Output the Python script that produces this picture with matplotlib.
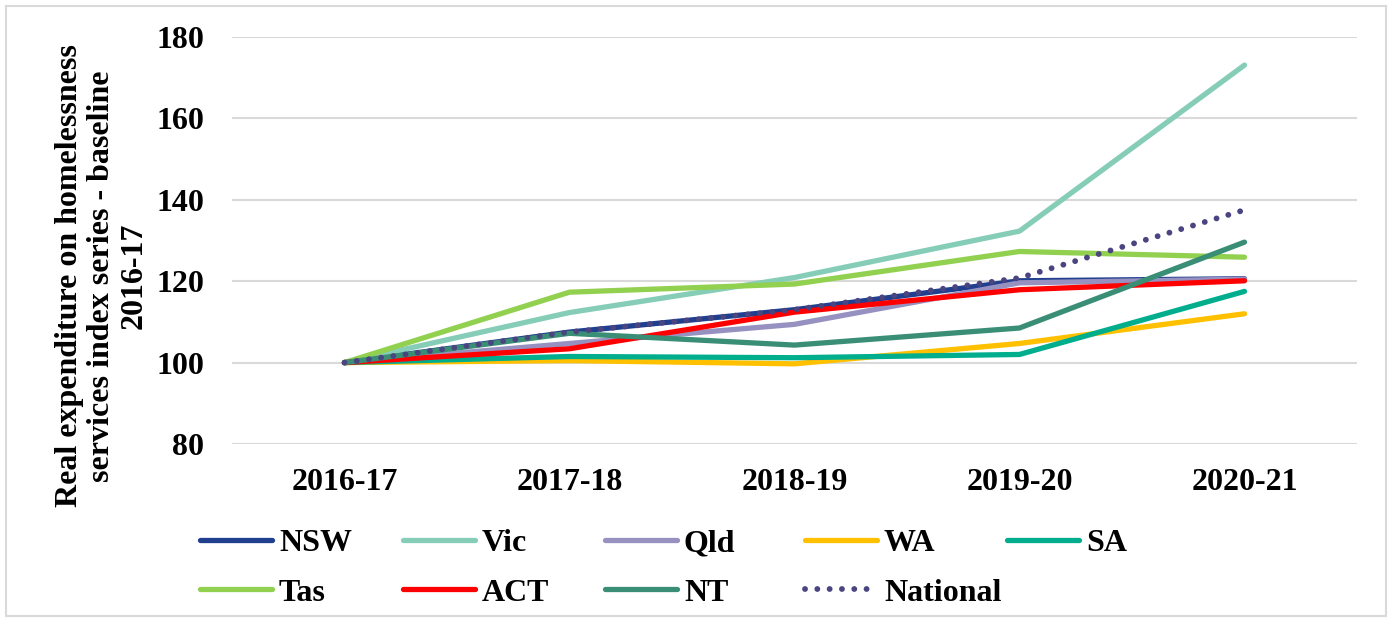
import matplotlib
matplotlib.use("Agg")
import matplotlib.pyplot as plt
from matplotlib.patches import Rectangle
from matplotlib.font_manager import FontProperties

years = ["2016-17", "2017-18", "2018-19", "2019-20", "2020-21"]
nsw = [100, 107.5, 113.0, 120.1, 120.6]
vic = [100, 112.3, 120.9, 132.3, 173.1]
qld = [100, 104.7, 109.4, 119.6, 120.5]
wa = [100, 100.5, 99.7, 104.7, 112.0]
sa = [100, 101.5, 101.2, 102.0, 117.5]
tas = [100, 117.3, 119.3, 127.3, 125.9]
act = [100, 103.4, 112.4, 117.9, 120.1]
nt = [100, 107.2, 104.3, 108.5, 129.6]
national = [100, 107.5, 113.0, 120.8, 137.5]

names = ["NSW", "Vic", "Qld", "WA", "SA", "Tas", "ACT", "NT", "National"]
series = [nsw, vic, qld, wa, sa, tas, act, nt, national]
colors = ["#203F8E", "#86CDB7", "#9791C1", "#FFC000", "#00AE8E",
          "#92D050", "#FF0000", "#3A8E76", "#4A4580"]

plt.rcParams['font.family'] = 'serif'
plt.rcParams['font.serif'] = ['Liberation Serif', 'DejaVu Serif']
plt.rcParams['font.weight'] = 'bold'
FS = 23
fp = FontProperties(family='Liberation Serif', weight='bold', size=FS)

fig = plt.figure(figsize=(13.9, 6.22), dpi=100)
ax = fig.add_axes([232 / 1390, 1 - 444 / 622, (1357 - 232) / 1390, (444 - 37) / 622])

x = list(range(len(years)))
handles = []
for name, vals, c in zip(names, series, colors):
    if name == "National":
        h, = ax.plot(x, vals, color=c, lw=4.2, linestyle=(0, (0.01, 2.1)),
                     dash_capstyle='round', solid_capstyle='round', label=name)
    else:
        h, = ax.plot(x, vals, color=c, lw=3.8, solid_capstyle='round',
                     solid_joinstyle='round', label=name)
    handles.append(h)

ax.set_xlim(-0.5, 4.5)
ax.set_ylim(80, 180)
ax.set_yticks([80, 100, 120, 140, 160, 180])
ax.set_xticks(x)
ax.set_xticklabels(years)
ax.grid(axis='y', color='#D9D9D9', lw=1.5)
ax.set_axisbelow(True)
for s in ax.spines.values():
    s.set_visible(False)
ax.tick_params(axis='both', length=0, labelsize=FS)
ax.tick_params(axis='y', pad=20)
ax.tick_params(axis='x', pad=17)
for lab in ax.get_xticklabels() + ax.get_yticklabels():
    lab.set_fontproperties(fp)

fig.text(102 / 1390, 1 - 276 / 622,
         "Real expenditure on homelessness\nservices index series - baseline\n2016-17",
         rotation=90, ha='center', va='center', fontproperties=fp,
         linespacing=1.15)

col_x = [200, 403, 605, 805, 1007]
for j, cx in enumerate(col_x):
    hs = [handles[j]]
    ls = [names[j]]
    if j + 5 < len(handles):
        hs.append(handles[j + 5])
        ls.append(names[j + 5])
    leg = fig.legend(hs, ls, loc='upper left', bbox_to_anchor=(cx / 1390, 1 - 529 / 622),
                     frameon=False, handlelength=2.25, handletextpad=0.22,
                     borderpad=0, borderaxespad=0, labelspacing=0.62, prop=fp)
    for t in leg.get_texts():
        t.set_fontproperties(fp)

fig.add_artist(Rectangle((6 / 1390, 6 / 622), 1380 / 1390, 610 / 622,
                         transform=fig.transFigure, fill=False,
                         edgecolor='#D9D9D9', lw=1.5))

fig.savefig("out.png", dpi=100)
